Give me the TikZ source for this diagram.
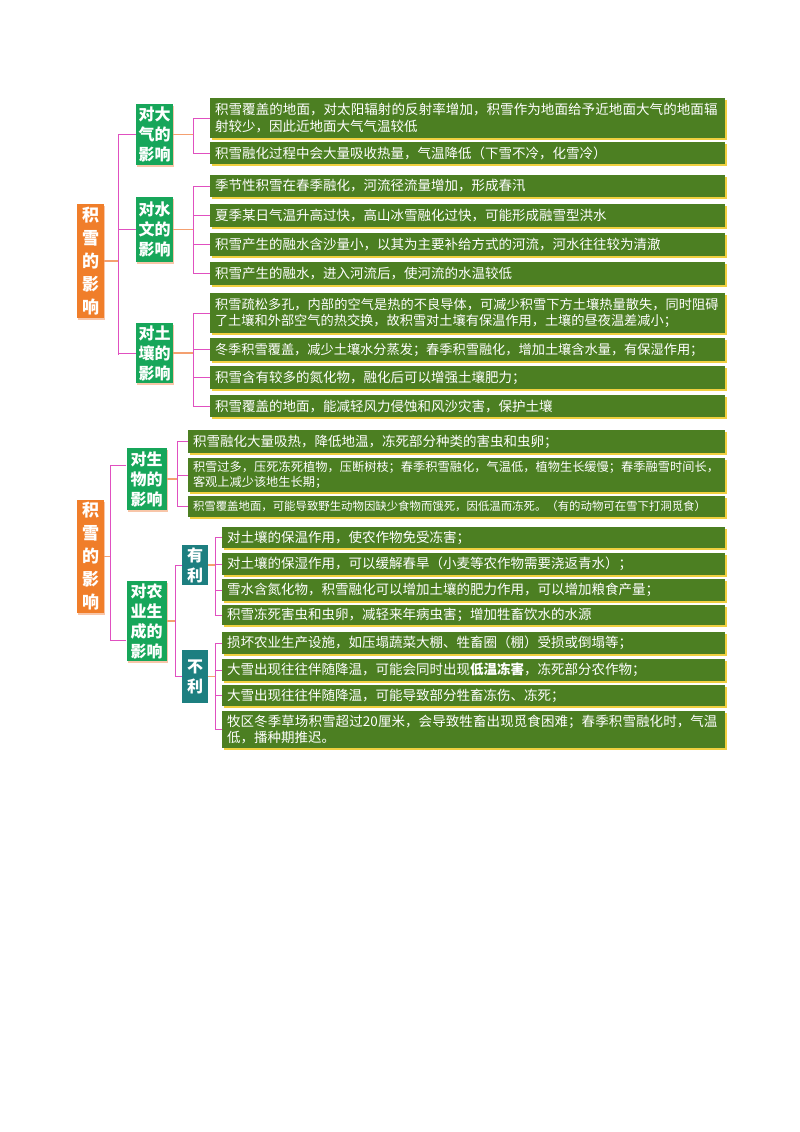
\documentclass[tikz,border=0pt]{standalone}
\usepackage{fontspec}
\setmainfont{Noto Sans CJK SC}
\XeTeXlinebreaklocale "zh"
\XeTeXlinebreakskip=0pt plus 1pt
\usetikzlibrary{shadows}
\definecolor{itemg}{HTML}{4C7F22}
\definecolor{nodeg}{HTML}{17A65A}
\definecolor{orng}{HTML}{F07E2A}
\definecolor{teal2}{HTML}{1D7F80}
\definecolor{magc}{HTML}{E050C0}
\definecolor{salm}{HTML}{F4A070}
\definecolor{yel}{HTML}{F0D040}
\newcommand{\itm}[6][13.5]{\pgfmathsetmacro\mytw{725-#3-10}\pgfmathsetmacro\mymw{725-#3}\pgfmathsetmacro\mymh{#5-#4}\pgfmathsetmacro\myls{#1*1.25}%
\node[itembox,minimum width=\mymw pt,text width=\mytw pt,minimum height=\mymh pt,font=\fontsize{#1}{\myls}\selectfont] (#2) at ({(#3+725)/2},{(#4+#5)/2}) {#6};}
\begin{document}
\begin{tikzpicture}[x=1pt,y=-1pt,
 itembox/.style={rectangle,fill=itemg,text=white,align=left,inner xsep=5pt,inner ysep=1pt,drop shadow={shadow xshift=1.5pt,shadow yshift=-2pt,fill=yel,opacity=1}},
 catbox/.style={rectangle,fill=nodeg,text=white,align=center,font=\fontsize{16}{20}\selectfont\bfseries,inner sep=2pt,drop shadow={shadow xshift=1pt,shadow yshift=-2pt,fill=salm!60,opacity=1}},
 rootbox/.style={rectangle,fill=orng,text=white,align=center,font=\fontsize{17}{23}\selectfont\bfseries,inner sep=2pt,minimum width=27pt,drop shadow={shadow xshift=1pt,shadow yshift=-2pt,fill=salm!60,opacity=1}},
 subbox/.style={rectangle,fill=teal2,text=white,align=center,font=\fontsize{16}{20}\selectfont\bfseries,inner sep=2pt,minimum width=26pt},
 vline/.style={draw=magc,line width=0.9pt},
 hline/.style={draw=salm,line width=1.2pt}]
\useasboundingbox (0,0) rectangle (800,1132);
% ===== Section 1 =====
\node[rootbox,minimum height=114pt] (r1) at (90.5,261) {积\\雪\\的\\影\\响};
\node[catbox,minimum width=37pt,minimum height=61pt] (c1) at (154.5,134.5) {对大\\气的\\影响};
\node[catbox,minimum width=37pt,minimum height=65pt] (c2) at (154.5,229.5) {对水\\文的\\影响};
\node[catbox,minimum width=37pt,minimum height=60pt] (c3) at (154.5,353) {对土\\壤的\\影响};
\itm{a1}{210}{98}{138}{积雪覆盖的地面，对太阳辐射的反射率增加，积雪作为地面给予近地面大气的地面辐射较少，因此近地面大气气温较低}
\itm{a2}{210}{142}{164}{积雪融化过程中会大量吸收热量，气温降低（下雪不冷，化雪冷）}
\itm{b1}{210}{175}{197}{季节性积雪在春季融化，河流径流量增加，形成春汛}
\itm{b2}{210}{204}{227}{夏季某日气温升高过快，高山冰雪融化过快，可能形成融雪型洪水}
\itm{b3}{210}{233}{256}{积雪产生的融水含沙量小，以其为主要补给方式的河流，河水往往较为清澈}
\itm{b4}{210}{262}{285}{积雪产生的融水，进入河流后，使河流的水温较低}
\itm[13.2]{d1}{210}{293}{333}{积雪疏松多孔，内部的空气是热的不良导体，可减少积雪下方土壤热量散失，同时阻碍了土壤和外部空气的热交换，故积雪对土壤有保温作用，土壤的昼夜温差减小；}
\itm[13.2]{d2}{210}{338}{361}{冬季积雪覆盖，减少土壤水分蒸发；春季积雪融化，增加土壤含水量，有保湿作用；}
\itm{d3}{210}{366}{389}{积雪含有较多的氮化物，融化后可以增强土壤肥力；}
\itm{d4}{210}{395}{417}{积雪覆盖的地面，能减轻风力侵蚀和风沙灾害，保护土壤}
\coordinate (t1) at (118,135); \coordinate (t2) at (118,355);
\draw[hline] (r1.east) -- (r1.east -| t1);
\draw[vline] (t1) -- (t2);
\foreach \c in {c1,c2,c3} \draw[vline] (t1 |- \c.west) -- (\c.west);
\foreach \c/\a/\b in {c1/a1/a2,c2/b1/b4,c3/d1/d4}{
  \draw[hline] (\c.east) -- (193,0 |- \c.east);
  \draw[vline] (193,0 |- \a.west) -- (193,0 |- \b.west);
}
\foreach \i in {a1,a2,b1,b2,b3,b4,d1,d2,d3,d4} \draw[vline] (193,0 |- \i.west) -- (\i.west);
% ===== Section 2 =====
\node[rootbox,minimum height=107pt] (r2) at (90.5,556.5) {积\\雪\\的\\影\\响};
\node[catbox,minimum width=40pt,minimum height=62pt] (c4) at (146.5,479) {对生\\物的\\影响};
\node[catbox,minimum width=40pt,minimum height=78pt] (c5) at (146.5,621) {对农\\业生\\成的\\影响};
\node[subbox,minimum height=40pt] (s1) at (195,565) {有\\利};
\node[subbox,minimum height=53pt] (s2) at (195,676.5) {不\\利};
\itm{e1}{188}{430}{453}{积雪融化大量吸热，降低地温，冻死部分种类的害虫和虫卵；}
\itm[12.2]{e2}{188}{458}{492}{积雪过多，压死冻死植物，压断树枝；春季积雪融化，气温低，植物生长缓慢；春季融雪时间长，客观上减少该地生长期；}
\itm[11.4]{e3}{188}{496}{517}{积雪覆盖地面，可能导致野生动物因缺少食物而饿死，因低温而冻死。（有的动物可在雪下打洞觅食）}
\itm{f1}{222}{527}{548}{对土壤的保温作用，使农作物免受冻害；}
\itm{f2}{222}{553}{575}{对土壤的保湿作用，可以缓解春旱（小麦等农作物需要浇返青水）；}
\itm{f3}{222}{579}{601}{雪水含氮化物，积雪融化可以增加土壤的肥力作用，可以增加粮食产量；}
\itm{f4}{222}{605}{625}{积雪冻死害虫和虫卵，减轻来年病虫害；增加牲畜饮水的水源}
\itm{g1}{222}{632}{654}{损坏农业生产设施，如压塌蔬菜大棚、牲畜圈（棚）受损或倒塌等；}
\itm{g2}{222}{659}{681}{大雪出现往往伴随降温，可能会同时出现\textbf{低温冻害}，冻死部分农作物；}
\itm{g3}{222}{685}{706}{大雪出现往往伴随降温，可能导致部分牲畜冻伤、冻死；}
\itm{g4}{222}{711}{748}{牧区冬季草场积雪超过20厘米，会导致牲畜出现觅食困难；春季积雪融化时，气温低，播种期推迟。}
\coordinate (t3) at (110,465); \coordinate (t4) at (110,640);
\draw[hline] (r2.east) -- (r2.east -| t3);
\draw[vline] (t3) -- (t4);
\draw[vline] (t3) -- (t3 -| c4.west);
\draw[vline] (t4) -- (t4 -| c5.west);
\coordinate (j4) at (177,479);
\draw[hline] (c4.east) -- (j4);
\draw[vline] (j4 |- e1.west) -- (j4 |- e3.west);
\foreach \i in {e1,e2,e3} \draw[vline] (j4 |- \i.west) -- (\i.west);
\coordinate (j5) at (175,621);
\draw[hline] (c5.east) -- (j5);
\draw[vline] (j5 |- s1.west) -- (j5 |- s2.west);
\draw[vline] (j5 |- s1.west) -- (s1.west);
\draw[vline] (j5 |- s2.west) -- (s2.west);
\coordinate (j6) at (215,565);
\draw[hline] (s1.east) -- (j6);
\draw[hline] (s2.east) -- (j6 |- s2.east);
\draw[vline] (j6 |- f1.west) -- (j6 |- f4.west);
\draw[vline] (j6 |- g1.west) -- (j6 |- g4.west);
\foreach \i in {f1,f2,f3,f4,g1,g2,g3,g4} \draw[vline] (j6 |- \i.west) -- (\i.west);
\end{tikzpicture}
\end{document}
